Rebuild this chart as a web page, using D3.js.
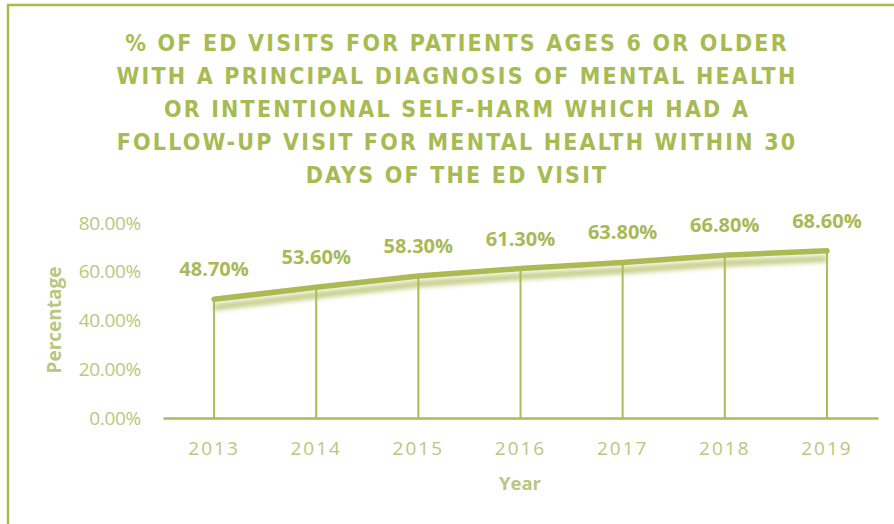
<!DOCTYPE html>
<html lang="en">
<head>
<meta charset="UTF-8">
<title>ED visits follow-up</title>
<script src="https://d3js.org/d3.v7.min.js"></script>
<style>
  body { margin: 0; background: #fff; }
</style>
</head>
<body>
<div id="chart"></div>
<script>
// data
var years = ["2013", "2014", "2015", "2016", "2017", "2018", "2019"]
var values = [48.7, 53.6, 58.3, 61.3, 63.8, 66.8, 68.6]
var yTicks = [0, 20, 40, 60, 80]
var titleLines = [
    "% OF ED VISITS FOR PATIENTS AGES 6 OR OLDER",
    "WITH A PRINCIPAL DIAGNOSIS OF MENTAL HEALTH",
    "OR INTENTIONAL SELF-HARM WHICH HAD A",
    "FOLLOW-UP VISIT FOR MENTAL HEALTH WITHIN 30",
    "DAYS OF THE ED VISIT"
]

var width = 894
var height = 524
var margin = {top: 223, bottom: 106, left: 163, right: 16}

var green = "#abbb55"
var lightGreen = "#b9c77f"

var svg = d3.select("#chart")
    .append("svg")
    .attr("width", width)
    .attr("height", height)

// borde del gráfico (sale fuera por la derecha y abajo)
svg.append("path")
    .attr("d", "M8," + (height + 10) + " L8,5 L" + (width + 10) + ",5")
    .attr("fill", "none")
    .attr("stroke", "#a9ba4f")
    .attr("stroke-width", 2.5)

var defs = svg.append("defs")
var shadow = defs.append("filter")
    .attr("id", "shadow")
    .attr("x", "-10%").attr("y", "-50%")
    .attr("width", "120%").attr("height", "300%")
shadow.append("feGaussianBlur")
    .attr("in", "SourceGraphic")
    .attr("stdDeviation", 2.6)

var x = d3.scaleBand()
    .domain(years)
    .range([margin.left, width - margin.right])

var y = d3.scaleLinear()
    .domain([0, 80])
    .range([height - margin.bottom, margin.top])

// titulo
svg.append("g")
    .selectAll("text")
    .data(titleLines)
    .enter()
    .append("text")
    .attr("x", 457)
    .attr("y", function (d, i) { return 51 + i * 33 })
    .attr("text-anchor", "middle")
    .style("font-family", "'Liberation Sans Narrow', 'DejaVu Sans Condensed', sans-serif")
    .style("font-weight", "bold")
    .style("font-size", "23px")
    .style("letter-spacing", "2.2px")
    .attr("fill", "#a7bb52")
    .text(function (d) { return d })

// eje y (solo etiquetas)
var yAxis = d3.axisLeft(y)
    .tickValues(yTicks)
    .tickSize(0)
    .tickPadding(0)
    .tickFormat(function (d) { return d3.format(".2f")(d) + "%" })

svg.append("g")
    .attr("transform", "translate(141,0)")
    .call(yAxis)
    .call(function (g) { g.select(".domain").remove() })
    .selectAll("text")
    .style("font-family", "'Open Sans', sans-serif")
    .style("font-size", "19px")
    .style("letter-spacing", "-0.3px")
    .attr("fill", lightGreen)

// eje x
var xAxis = d3.axisBottom(x)
    .tickSize(0)
    .tickPadding(0)

var gx = svg.append("g")
    .attr("transform", "translate(0," + (height - margin.bottom) + ")")
    .call(xAxis)
gx.select(".domain")
    .attr("stroke", green)
    .attr("stroke-width", 2.5)
gx.selectAll("text")
    .attr("dy", 0)
    .attr("y", 37)
    .style("font-family", "'Open Sans', sans-serif")
    .style("font-size", "19px")
    .style("letter-spacing", "2px")
    .attr("fill", lightGreen)

// títulos de ejes
svg.append("text")
    .attr("transform", "translate(61,320) rotate(-90)")
    .attr("text-anchor", "middle")
    .style("font-family", "'Open Sans', sans-serif")
    .style("font-weight", "bold")
    .style("font-size", "19px")
    .attr("fill", lightGreen)
    .text("Percentage")

svg.append("text")
    .attr("x", 520)
    .attr("y", 490)
    .attr("text-anchor", "middle")
    .style("font-family", "'Open Sans', sans-serif")
    .style("font-weight", "bold")
    .style("font-size", "18.5px")
    .attr("fill", lightGreen)
    .text("Year")

var cx = function (d, i) { return x(years[i]) + x.bandwidth() / 2 }

var line = d3.line()
    .x(cx)
    .y(function (d) { return y(d) })

// sombra de la línea
svg.append("path")
    .datum(values)
    .attr("d", line)
    .attr("transform", "translate(0,8)")
    .attr("fill", "none")
    .attr("stroke", "#b2c063")
    .attr("stroke-width", 6)
    .attr("opacity", 0.85)
    .attr("filter", "url(#shadow)")

// líneas verticales
svg.append("g")
    .selectAll("line")
    .data(values)
    .enter()
    .append("line")
    .attr("x1", cx)
    .attr("x2", cx)
    .attr("y1", function (d) { return y(d) })
    .attr("y2", y(0))
    .attr("stroke", green)
    .attr("stroke-width", 2)

svg.append("path")
    .datum(values)
    .attr("d", line)
    .attr("fill", "none")
    .attr("stroke", "#abba52")
    .attr("stroke-width", 5.5)
    .attr("stroke-linecap", "round")
    .attr("stroke-linejoin", "round")

// etiquetas de datos
svg.append("g")
    .selectAll("text")
    .data(values)
    .enter()
    .append("text")
    .attr("x", cx)
    .attr("y", function (d) { return y(d) - 23 })
    .attr("text-anchor", "middle")
    .style("font-family", "'Open Sans', sans-serif")
    .style("font-weight", "bold")
    .style("font-size", "20px")
    .attr("fill", "#a9b955")
    .text(function (d) { return d3.format(".2f")(d) + "%" })
</script>
</body>
</html>
